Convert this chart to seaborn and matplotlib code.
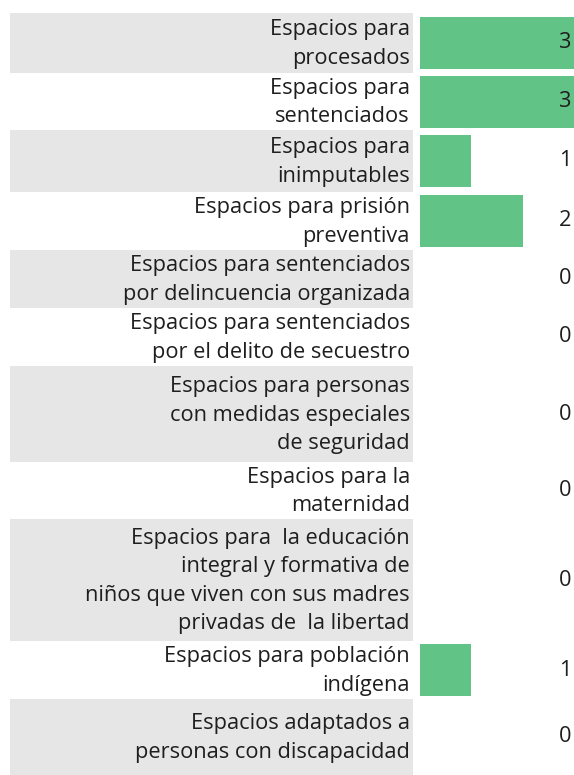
import numpy as np
import pandas as pd
import matplotlib
matplotlib.use("Agg")
import matplotlib.pyplot as plt
import seaborn as sns

categories = [
    "Espacios para\nprocesados",
    "Espacios para\nsentenciados",
    "Espacios para\ninimputables",
    "Espacios para prisión\npreventiva",
    "Espacios para sentenciados\npor delincuencia organizada",
    "Espacios para sentenciados\npor el delito de secuestro",
    "Espacios para personas\ncon medidas especiales\nde seguridad",
    "Espacios para la\nmaternidad",
    "Espacios para  la educación\nintegral y formativa de\nniños que viven con sus madres\nprivadas de  la libertad",
    "Espacios para población\nindígena",
    "Espacios adaptados a\npersonas con discapacidad",
]
values = [3, 3, 1, 2, 0, 0, 0, 0, 0, 1, 0]

# ---- layout (pixels) ----
W, H = 574, 775
top = 13
row_h = np.array([60, 57, 62, 58, 58, 58, 96, 57, 122, 58, 76])
tops = top + np.concatenate([[0], np.cumsum(row_h)[:-1]])
centers = tops + row_h / 2
bar_px = 52
GREEN = "#62c386"
GREY = "#e6e6e6"
TXT = "#1e1e1e"
FONT = ["Open Sans", "DejaVu Sans"]
FS = 15.7

sns.set_theme(style="white")
plt.rcParams["font.family"] = FONT

fig = plt.figure(figsize=(W / 100, H / 100), dpi=100)
bg = fig.add_axes([0, 0, 1, 1])
bg.set_xlim(0, W)
bg.set_ylim(H, 0)
bg.axis("off")

for i, (t, h) in enumerate(zip(tops, row_h)):
    if i % 2 == 0:
        bg.fill_between([10, 413], t, t + h, color=GREY, lw=0, zorder=0)

for c, lab, v in zip(centers, categories, values):
    bg.text(410, c + 1, lab, ha="right", va="center", fontsize=FS, color=TXT,
            linespacing=1.45, multialignment="right")
    bg.text(571, c, str(v), ha="right", va="center", fontsize=FS, color=TXT, zorder=5)

ax = fig.add_axes([420 / W, 0, (W - 420) / W, 1])
df = pd.DataFrame({"pos": centers, "value": values})
native = np.diff(np.sort(centers)).min()
sns.barplot(data=df, x="value", y="pos", orient="h", native_scale=True,
            width=bar_px / native, color=GREEN, saturation=1, ax=ax,
            linewidth=0, errorbar=None)
ax.set_xlim(0, 3)
ax.set_ylim(H, 0)
ax.axis("off")
ax.patch.set_alpha(0)
ax.set_zorder(1)
bg.set_zorder(2)
bg.patch.set_alpha(0)

fig.savefig("out.png", dpi=100)
